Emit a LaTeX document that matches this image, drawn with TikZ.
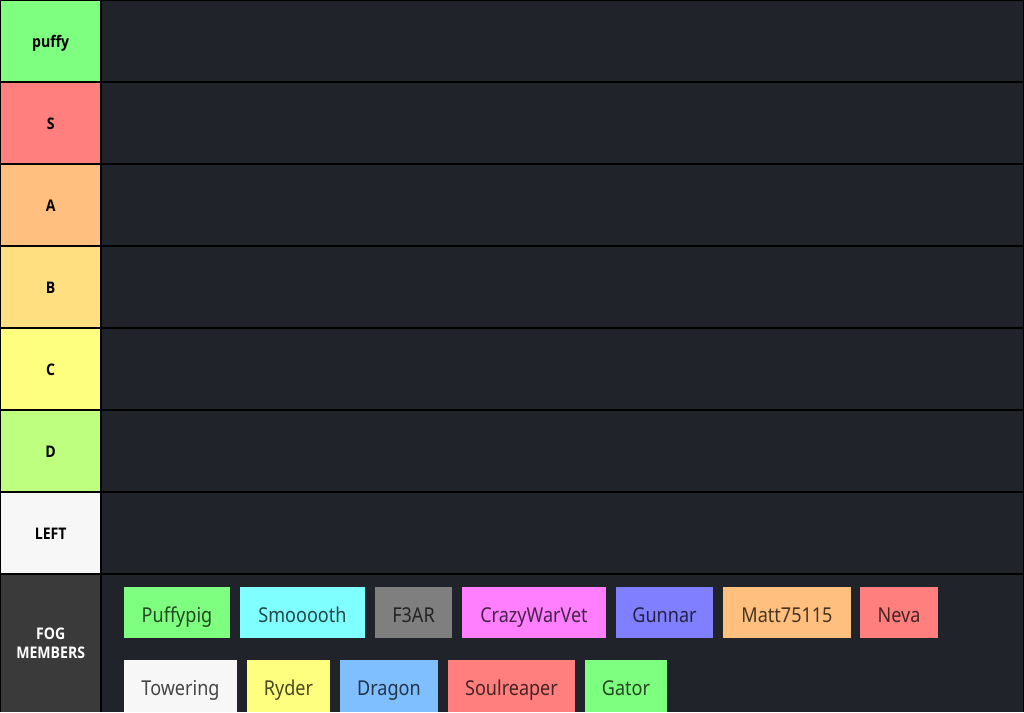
\documentclass[tikz,border=0pt]{standalone}
\usepackage{fontspec}
\setmainfont{Noto Sans}[FakeStretch=0.88]
\newfontfamily\labfont{Open Sans}[FakeStretch=0.88]
\definecolor{bgdark}{HTML}{21232B}
\definecolor{tgreen}{HTML}{7FFF7F}
\definecolor{tred}{HTML}{FF7F7F}
\definecolor{torange}{HTML}{FFBF7F}
\definecolor{tgold}{HTML}{FFDF7F}
\definecolor{tyellow}{HTML}{FFFF7F}
\definecolor{tlime}{HTML}{BFFF7F}
\definecolor{twhite}{HTML}{F7F7F7}
\definecolor{tfog}{HTML}{3A3A3A}
\definecolor{tcyan}{HTML}{7FFFFF}
\definecolor{tgray}{HTML}{7F7F7F}
\definecolor{tpink}{HTML}{FF7FFF}
\definecolor{tblue}{HTML}{7F7FFF}
\definecolor{tsky}{HTML}{7FBFFF}
\begin{document}
\begin{tikzpicture}[x=1pt,y=-1pt,
  labelbase/.style={anchor=north west,inner sep=0pt,minimum width=99pt,minimum height=80pt,
    font=\labfont\fontsize{16}{19}\selectfont\bfseries,align=center,text=black},
  labelcell/.style={labelbase,text height=14pt,text depth=0.8pt},
  contentcell/.style={anchor=north west,inner sep=0pt,minimum width=921pt,minimum height=80pt,fill=bgdark},
  item/.style={inner sep=0pt,minimum height=51pt,font=\fontsize{20.5}{24}\selectfont,text=black,text opacity=0.72,
    text height=20pt,text depth=0.4pt},
  item2/.style={item,minimum height=52pt}]
\fill[black] (0,0) rectangle (1024,712);
\useasboundingbox (0,0) rectangle (1024,712);
% tier rows
\node[labelcell,fill=tgreen] (lp) at (1,1) {puffy};
\node[contentcell] (cp) at (102,1) {};
\node[labelcell,fill=tred] (ls) at (1,83) {S};
\node[contentcell] (cs) at (102,83) {};
\node[labelcell,fill=torange] (la) at (1,165) {A};
\node[contentcell] (ca) at (102,165) {};
\node[labelcell,fill=tgold] (lb) at (1,247) {B};
\node[contentcell] (cb) at (102,247) {};
\node[labelcell,fill=tyellow] (lc) at (1,329) {C};
\node[contentcell] (cc) at (102,329) {};
\node[labelcell,fill=tlime] (ld) at (1,411) {D};
\node[contentcell] (cd) at (102,411) {};
\node[labelcell,fill=twhite] (ll) at (1,493) {LEFT};
\node[contentcell] (cl) at (102,493) {};
\node[labelbase,fill=tfog,text=white,minimum height=137pt] (lf) at (1,575) {FOG\\MEMBERS};
\node[contentcell,minimum height=137pt] (cf) at (102,575) {};
% items row 1
\node[item,fill=tgreen,minimum width=106pt] (i1) at (177,612.5) {Puffypig};
\node[item,fill=tcyan,minimum width=125pt] (i2) at (302.5,612.5) {Smooooth};
\node[item,fill=tgray,minimum width=77pt] (i3) at (413.5,612.5) {F3AR};
\node[item,fill=tpink,minimum width=144pt] (i4) at (534,612.5) {CrazyWarVet};
\node[item,fill=tblue,minimum width=97pt] (i5) at (664.5,612.5) {Gunnar};
\node[item,fill=torange,minimum width=128pt] (i6) at (787,612.5) {Matt75115};
\node[item,fill=tred,minimum width=78pt] (i7) at (899,612.5) {Neva};
% items row 2
\node[item2,fill=twhite,minimum width=113pt] (j1) at (180.5,686) {Towering};
\node[item2,fill=tyellow,minimum width=83pt] (j2) at (288.5,686) {Ryder};
\node[item2,fill=tsky,minimum width=98pt] (j3) at (389,686) {Dragon};
\node[item2,fill=tred,minimum width=127pt] (j4) at (511.5,686) {Soulreaper};
\node[item2,fill=tgreen,minimum width=82pt] (j5) at (626,686) {Gator};
\end{tikzpicture}
\end{document}
